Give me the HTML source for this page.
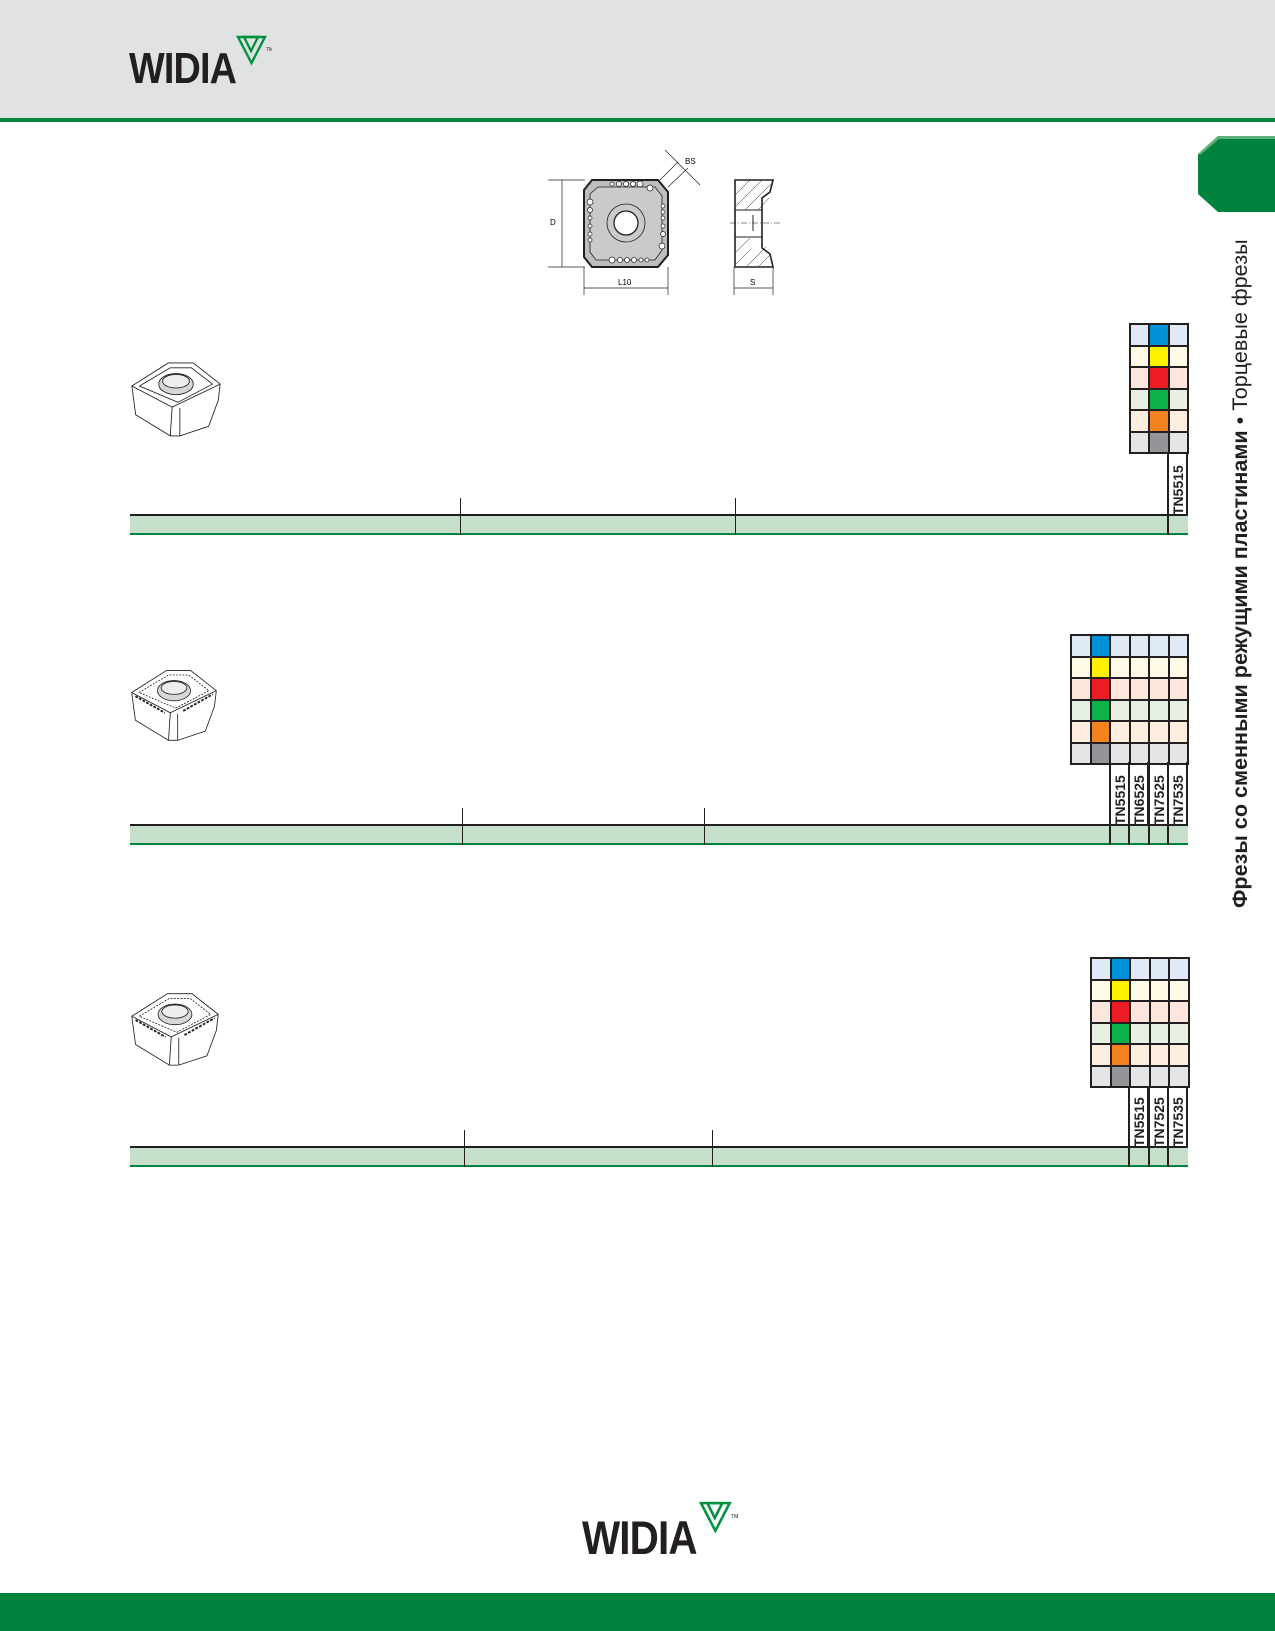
<!DOCTYPE html>
<html><head><meta charset="utf-8">
<style>
*{margin:0;padding:0;box-sizing:border-box}
body{width:1275px;height:1631px;position:relative;background:#fff;font-family:"Liberation Sans",sans-serif;overflow:hidden}
.abs{position:absolute}
.grid{position:absolute;display:grid;background:#231f20;gap:2px;padding:2px}
.grid div{height:19.5px}
.lb{background:#dfeaf6}.b{background:#0092d8}
.ly{background:#fffbe6}.y{background:#fff200}
.lr{background:#fde6dc}.r{background:#ed1c24}
.lg{background:#e6f1e3}.g{background:#0db14b}
.lo{background:#fdeee0}.o{background:#f58220}
.lk{background:#e4e5e7}.k{background:#939598}
.row{position:absolute;height:21px;background:#c5dfcb;border-top:2px solid #231f20;border-bottom:2px solid #00843d}
.vl{position:absolute;width:1px;background:#231f20}
.lab{position:absolute;border-left:2px solid #231f20;border-right:2px solid #231f20}
.lab span{position:absolute;left:50%;bottom:4px;transform-origin:0 0;transform:rotate(-90deg) translate(0,-50%);font-weight:bold;font-size:14px;white-space:nowrap;color:#231f20}
.logo{position:absolute;font-weight:bold;color:#231f20;transform-origin:0 0;letter-spacing:-1px}
</style></head><body>
<div class="abs" style="left:0;top:0;width:1275px;height:118px;background:#e1e2e4"></div>
<div class="abs" style="left:0;top:118px;width:1275px;height:4px;background:#00843d"></div>

<div class="logo" style="left:129px;top:44px;font-size:44px;transform:scaleX(0.86)">WIDIA</div>
<svg class="abs" style="left:236px;top:35px" width="36" height="32" viewBox="0 0 36 32"><g fill="none" stroke="#00923f" stroke-width="2.4"><polygon points="2,2 29,2 15.5,28"/><polygon points="8,2 22,2 15,16"/></g><text x="30" y="16" font-size="5" fill="#231f20" font-family="Liberation Sans">TM</text></svg>

<!-- side tab -->
<svg class="abs" style="left:1198px;top:136px" width="77" height="76" viewBox="0 0 77 76"><polygon points="20,0 77,0 77,76 20,76 0,58 0,18" fill="#00843d"/><polygon points="20,0 77,0 77,3 21,3 2,19 0,18" fill="#5fb07a"/></svg>
<div class="abs" style="left:1225px;top:226px;width:30px;height:682px;writing-mode:vertical-rl;transform:rotate(180deg);font-size:21.6px;color:#231f20;white-space:nowrap;line-height:30px"><b>Фрезы со сменными режущими пластинами</b> • <span style="font-weight:300">Торцевые фрезы</span></div>

<!-- technical drawing -->
<svg class="abs" style="left:540px;top:140px" width="250" height="160" viewBox="0 0 250 160" font-family="Liberation Sans" font-size="8">
<g stroke="#231f20" fill="none" stroke-width="0.7">
<line x1="8" y1="40" x2="45" y2="40"/><line x1="8" y1="127" x2="45" y2="127"/>
<line x1="22" y1="40" x2="22" y2="127"/>
<line x1="44" y1="127" x2="44" y2="155"/><line x1="128" y1="127" x2="128" y2="155"/>
<line x1="44" y1="148" x2="128" y2="148"/>
<line x1="120" y1="40" x2="138" y2="22"/><line x1="128" y1="47" x2="148" y2="28"/>
<line x1="125" y1="10" x2="160" y2="45"/>
<line x1="194" y1="127" x2="194" y2="155"/><line x1="233" y1="127" x2="233" y2="155"/>
<line x1="194" y1="148" x2="233" y2="148"/>
</g>
<path d="M52,40 L118,40 L128,52 L128,115 L118,127 L52,127 L44,117 L44,50 Z" fill="#bcbec0" stroke="#231f20" stroke-width="2"/>
<path d="M58,47 L115,47 L122,56 L122,110 L115,120 L56,120 L50,112 L50,54 Z" fill="#c9cacc" stroke="#231f20" stroke-width="0.8"/>
<circle cx="86" cy="83" r="19" fill="#c9cacc" stroke="#231f20" stroke-width="0.8"/>
<circle cx="86" cy="83" r="12" fill="#fff" stroke="#231f20" stroke-width="1.3"/>
<g fill="#fff" stroke="#231f20" stroke-width="0.7">
<circle cx="72" cy="44" r="2"/><circle cx="79" cy="44" r="2.5"/><circle cx="86" cy="44" r="2.5"/><circle cx="93" cy="44" r="2.5"/><circle cx="100" cy="44" r="3"/><circle cx="110" cy="48" r="3"/>
<circle cx="72" cy="120" r="3"/><circle cx="80" cy="120" r="2.5"/><circle cx="87" cy="120" r="2.5"/><circle cx="94" cy="120" r="2.5"/><circle cx="101" cy="120" r="2"/><circle cx="107" cy="120" r="2"/>
<circle cx="50" cy="62" r="3"/><circle cx="50" cy="70" r="2.5"/><circle cx="50" cy="78" r="2"/><circle cx="50" cy="86" r="2"/><circle cx="50" cy="94" r="2"/><circle cx="50" cy="100" r="2"/>
<circle cx="123" cy="66" r="2"/><circle cx="123" cy="72" r="2"/><circle cx="123" cy="78" r="2"/><circle cx="123" cy="86" r="2"/><circle cx="123" cy="94" r="2.5"/><circle cx="122" cy="106" r="3"/>
</g>
<path d="M195,40 L233,40 L230,52 L222,58 L222,108 L230,114 L233,127 L195,127 Z" fill="#fff" stroke="#231f20" stroke-width="1.6"/>
<g stroke="#231f20" stroke-width="0.5"><line x1="196" y1="54" x2="210" y2="40"/><line x1="196" y1="66" x2="222" y2="40"/><line x1="205" y1="70" x2="231" y2="44"/><line x1="218" y1="70" x2="229" y2="58"/><line x1="196" y1="124" x2="210" y2="110"/><line x1="206" y1="127" x2="226" y2="107"/><line x1="218" y1="127" x2="231" y2="114"/><line x1="196" y1="112" x2="210" y2="98"/></g>
<line x1="195" y1="70" x2="222" y2="70" stroke="#231f20"/><line x1="195" y1="97" x2="222" y2="97" stroke="#231f20"/>
<line x1="190" y1="83" x2="240" y2="83" stroke="#231f20" stroke-width="0.5" stroke-dasharray="6,2,1,2"/>
<line x1="213" y1="75" x2="213" y2="91" stroke="#231f20" stroke-width="1"/>
<text x="10" y="85">D</text><text x="78" y="145">L10</text><text x="145" y="24">BS</text><text x="210" y="145">S</text>
</g></svg>

<!-- insert pictures -->
<svg class="abs" style="left:128px;top:357px" width="96" height="82" viewBox="0 0 100 85"><g stroke="#231f20" stroke-width="0.9" fill="#fff"><path d="M4,30 L42,6 L68,6 L96,28 L94,45 L84,72 L54,82 L44,82 L8,60 Z"/><path d="M4,30 L46,52 L96,28"/><path d="M46,52 L44,82"/><path d="M54,53 L54,82"/><path d="M12,30 L44,11 L66,11 L88,28 L52,47 Z" fill="none"/><ellipse cx="50" cy="28" rx="18" ry="11" fill="#d6d7d9"/><ellipse cx="50" cy="25" rx="14" ry="7" fill="#eee"/></g></svg>
<svg class="abs" style="left:128px;top:663px" width="92" height="82" viewBox="0 0 100 85"><g stroke="#231f20" stroke-width="0.9" fill="#fff"><path d="M4,30 L42,6 L68,6 L96,28 L94,45 L84,72 L54,82 L44,82 L8,60 Z"/><path d="M4,30 L46,52 L96,28"/><path d="M46,52 L44,82"/><path d="M54,53 L54,82"/><path d="M12,30 L44,11 L66,11 L88,28 L52,47 Z" fill="none" stroke-dasharray="2,1.5"/><ellipse cx="50" cy="28" rx="18" ry="11" fill="#d6d7d9"/><ellipse cx="50" cy="25" rx="14" ry="7" fill="#eee"/><path d="M8,34 L40,52 M60,50 L92,32" fill="none" stroke-dasharray="3,1.5" stroke-width="2"/></g></svg>
<svg class="abs" style="left:128px;top:986px" width="94" height="84" viewBox="0 0 100 85"><g stroke="#231f20" stroke-width="0.9" fill="#fff"><path d="M4,30 L42,6 L68,6 L96,28 L94,45 L84,72 L54,82 L44,82 L8,60 Z"/><path d="M4,30 L46,52 L96,28"/><path d="M46,52 L44,82"/><path d="M54,53 L54,82"/><path d="M12,30 L44,11 L66,11 L88,28 L52,47 Z" fill="none" stroke-dasharray="2,1.5"/><ellipse cx="50" cy="28" rx="18" ry="11" fill="#d6d7d9"/><ellipse cx="50" cy="25" rx="14" ry="7" fill="#eee"/><path d="M8,34 L40,52 M60,50 L92,32" fill="none" stroke-dasharray="3,1.5" stroke-width="2"/></g></svg>

<!-- table 1 -->
<div class="grid" style="left:1129px;top:323px;grid-template-columns:repeat(3,17.3px)">
<div class="lb"></div><div class="b"></div><div class="lb"></div>
<div class="ly"></div><div class="y"></div><div class="ly"></div>
<div class="lr"></div><div class="r"></div><div class="lr"></div>
<div class="lg"></div><div class="g"></div><div class="lg"></div>
<div class="lo"></div><div class="o"></div><div class="lo"></div>
<div class="lk"></div><div class="k"></div><div class="lk"></div>
</div>
<div class="lab" style="left:1167px;top:452px;width:21px;height:83px"><span>TN5515</span></div>
<div class="vl" style="left:460px;top:498px;height:37px"></div>
<div class="vl" style="left:735px;top:498px;height:37px"></div>
<div class="row" style="left:130px;top:514px;width:1058px"></div>
<div class="vl" style="left:460px;top:514px;height:21px"></div><div class="vl" style="left:735px;top:514px;height:21px"></div>
<div class="abs" style="left:1167px;top:514px;width:2px;height:21px;background:#231f20"></div>

<!-- table 2 -->
<div class="grid" style="left:1070px;top:634px;grid-template-columns:repeat(6,17.5px)">
<div class="lb"></div><div class="b"></div><div class="lb"></div><div class="lb"></div><div class="lb"></div><div class="lb"></div>
<div class="ly"></div><div class="y"></div><div class="ly"></div><div class="ly"></div><div class="ly"></div><div class="ly"></div>
<div class="lr"></div><div class="r"></div><div class="lr"></div><div class="lr"></div><div class="lr"></div><div class="lr"></div>
<div class="lg"></div><div class="g"></div><div class="lg"></div><div class="lg"></div><div class="lg"></div><div class="lg"></div>
<div class="lo"></div><div class="o"></div><div class="lo"></div><div class="lo"></div><div class="lo"></div><div class="lo"></div>
<div class="lk"></div><div class="k"></div><div class="lk"></div><div class="lk"></div><div class="lk"></div><div class="lk"></div>
</div>
<div class="lab" style="left:1109px;top:762px;width:21px;height:83px"><span>TN5515</span></div>
<div class="lab" style="left:1128px;top:762px;width:21px;height:83px"><span>TN6525</span></div>
<div class="lab" style="left:1148px;top:762px;width:21px;height:83px"><span>TN7525</span></div>
<div class="lab" style="left:1167px;top:762px;width:21px;height:83px"><span>TN7535</span></div>
<div class="vl" style="left:462px;top:808px;height:37px"></div>
<div class="vl" style="left:704px;top:808px;height:37px"></div>
<div class="row" style="left:130px;top:824px;width:1058px"></div>
<div class="vl" style="left:462px;top:824px;height:21px"></div><div class="vl" style="left:704px;top:824px;height:21px"></div>
<div class="abs" style="left:1109px;top:824px;width:2px;height:21px;background:#231f20"></div><div class="abs" style="left:1128px;top:824px;width:2px;height:21px;background:#231f20"></div><div class="abs" style="left:1148px;top:824px;width:2px;height:21px;background:#231f20"></div><div class="abs" style="left:1167px;top:824px;width:2px;height:21px;background:#231f20"></div>

<!-- table 3 -->
<div class="grid" style="left:1090px;top:957px;grid-template-columns:repeat(5,17.5px)">
<div class="lb"></div><div class="b"></div><div class="lb"></div><div class="lb"></div><div class="lb"></div>
<div class="ly"></div><div class="y"></div><div class="ly"></div><div class="ly"></div><div class="ly"></div>
<div class="lr"></div><div class="r"></div><div class="lr"></div><div class="lr"></div><div class="lr"></div>
<div class="lg"></div><div class="g"></div><div class="lg"></div><div class="lg"></div><div class="lg"></div>
<div class="lo"></div><div class="o"></div><div class="lo"></div><div class="lo"></div><div class="lo"></div>
<div class="lk"></div><div class="k"></div><div class="lk"></div><div class="lk"></div><div class="lk"></div>
</div>
<div class="lab" style="left:1128px;top:1086px;width:21px;height:81px"><span>TN5515</span></div>
<div class="lab" style="left:1148px;top:1086px;width:21px;height:81px"><span>TN7525</span></div>
<div class="lab" style="left:1167px;top:1086px;width:21px;height:81px"><span>TN7535</span></div>
<div class="vl" style="left:464px;top:1130px;height:37px"></div>
<div class="vl" style="left:712px;top:1130px;height:37px"></div>
<div class="row" style="left:130px;top:1146px;width:1058px"></div>
<div class="vl" style="left:464px;top:1146px;height:21px"></div><div class="vl" style="left:712px;top:1146px;height:21px"></div>
<div class="abs" style="left:1128px;top:1146px;width:2px;height:21px;background:#231f20"></div><div class="abs" style="left:1148px;top:1146px;width:2px;height:21px;background:#231f20"></div><div class="abs" style="left:1167px;top:1146px;width:2px;height:21px;background:#231f20"></div>

<!-- footer -->
<div class="logo" style="left:582px;top:1510px;font-size:47px;transform:scaleX(0.86)">WIDIA</div>
<svg class="abs" style="left:698px;top:1501px" width="40" height="34" viewBox="0 0 36 32"><g fill="none" stroke="#00923f" stroke-width="2.4"><polygon points="2,2 29,2 15.5,28"/><polygon points="8,2 22,2 15,16"/></g><text x="30" y="16" font-size="5" fill="#231f20" font-family="Liberation Sans">TM</text></svg>
<div class="abs" style="left:0;top:1593px;width:1275px;height:38px;background:#00843d"></div>
</body></html>
